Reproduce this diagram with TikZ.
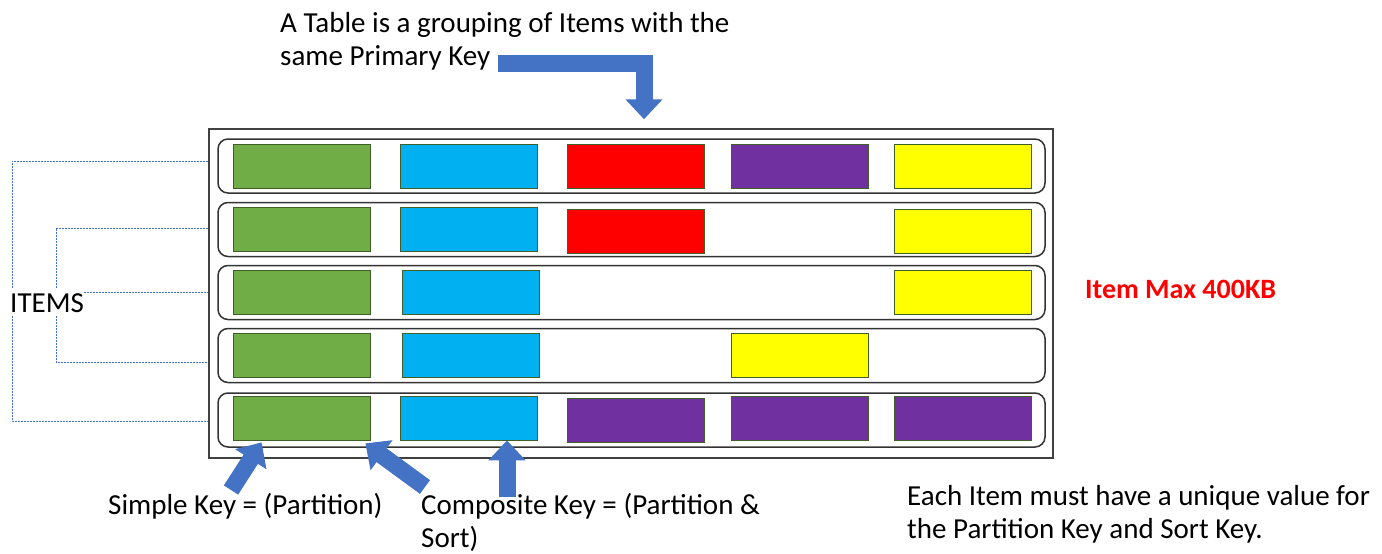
\documentclass[tikz,border=0pt]{standalone}
\usepackage{fontspec}
\setmainfont{Carlito}
\usetikzlibrary{arrows.meta}

\definecolor{attrgreen}{HTML}{70AD47}
\definecolor{attrblue}{HTML}{00B0F0}
\definecolor{attrred}{HTML}{FF0000}
\definecolor{attrpurple}{HTML}{7030A0}
\definecolor{attryellow}{HTML}{FFFF00}
\definecolor{arrowblue}{HTML}{4472C4}

\begin{document}
\begin{tikzpicture}[x=1pt, y=-1pt,
    attrbox/.style={draw=attrgreen!55!black, line width=0.8pt, minimum width=137pt, minimum height=44pt, inner sep=0pt},
    itemrow/.style={draw=black!80, line width=1.5pt, rounded corners=10pt, minimum width=827pt, minimum height=54pt, inner sep=0pt},
    txt/.style={font=\fontsize{29}{33}\selectfont, inner sep=0pt},
    keyarrow/.style={arrowblue, line width=17pt, -{Triangle[width=36pt, length=20pt]}},
    itemlink/.style={arrowblue, line width=1pt, dash pattern=on 2pt off 1pt}]
    \useasboundingbox (0, 0) rectangle (1382, 554);

    % the table and its items
    \node (tbl) [draw=black!75, line width=1.5pt, minimum width=844pt, minimum height=329pt, inner sep=0pt] at (631, 293.5) {};
    \begin{scope}[every node/.style={itemrow}]
      \node (row1) at (631.5, 166) {};
      \node (row2) at (631.5, 229.5) {};
      \node (row3) at (631.5, 292.5) {};
      \node (row4) at (631.5, 355.5) {};
      \node (row5) at (631.5, 420) {};
    \end{scope}

    % attributes
    \begin{scope}[every node/.style={attrbox}]
      \node (g1) [fill=attrgreen] at (301.5, 166) {};
      \node (b1) [fill=attrblue] at (469, 166) {};
      \node (r1) [fill=attrred] at (635.5, 166) {};
      \node (p1) [fill=attrpurple] at (799.5, 166) {};
      \node (y1) [fill=attryellow] at (963, 166) {};
      \node (g2) [fill=attrgreen] at (301.5, 229) {};
      \node (b2) [fill=attrblue] at (469, 229) {};
      \node (r2) [fill=attrred] at (635.5, 231) {};
      \node (y2) [fill=attryellow] at (963, 231) {};
      \node (g3) [fill=attrgreen] at (301.5, 292.5) {};
      \node (b3) [fill=attrblue] at (471, 292.5) {};
      \node (y3) [fill=attryellow] at (963, 292.5) {};
      \node (g4) [fill=attrgreen] at (301.5, 355) {};
      \node (b4) [fill=attrblue] at (471, 355) {};
      \node (y4) [fill=attryellow] at (799.5, 355) {};
      \node (g5) [fill=attrgreen] at (301.5, 418) {};
      \node (b5) [fill=attrblue] at (469, 418) {};
      \node (p5) [fill=attrpurple] at (635.5, 420) {};
      \node (q5) [fill=attrpurple] at (799.5, 418) {};
      \node (s5) [fill=attrpurple] at (963, 418) {};
    \end{scope}

    % ITEMS brackets
    \coordinate (outer) at (12, 0);
    \coordinate (inner) at (56, 0);
    \draw[itemlink] ([yshift=5pt]tbl.west |- row1) -| ([yshift=-1pt]outer |- row5) -- ([yshift=-1pt]tbl.west |- row5);
    \draw[itemlink] ([yshift=1pt]tbl.west |- row2) -| ([yshift=-6.5pt]inner |- row4) -- ([yshift=-6.5pt]tbl.west |- row4);
    \node (items) [txt, fill=white, inner ysep=4pt, anchor=base west] at (10, 312) {ITEMS};
    \draw[itemlink] (items.east |- row3) -- (tbl.west |- row3);

    % block arrows
    \coordinate (tabletail) at (498, 63);
    \draw[keyarrow] (tabletail) -| ([xshift=13pt, yshift=9pt]tbl.north);
    \coordinate (simpletail) at (231, 490);
    \draw[keyarrow] (simpletail) -- ([xshift=29pt, yshift=-2pt]g5.south west);
    \coordinate (sorttail) at (425, 487);
    \draw[keyarrow] (sorttail) -- ([xshift=-5pt, yshift=-3pt]g5.south east);
    \coordinate (comptail) at (507, 497);
    \draw[keyarrow] (comptail) -- ([xshift=38pt]b5.south);

    % texts
    \node (tabletxt) [txt, align=left, anchor=north west] at (280, 12) {A Table is a grouping of Items with the\\same Primary Key};
    \node (maxtxt) [txt, font=\fontsize{28}{33}\selectfont\bfseries, text=attrred, anchor=base west] at (1085, 298) {Item Max 400KB};
    \node (simpletxt) [txt, anchor=base west] at (108, 514) {Simple Key = (Partition)};
    \node (comptxt) [txt, align=left, anchor=north west] at (421, 493) {Composite Key = (Partition \&\\Sort)};
    \node (uniquetxt) [txt, align=left, anchor=north west] at (907, 485) {Each Item must have a unique value for\\the Partition Key and Sort Key.};
  \end{tikzpicture}
\end{document}
